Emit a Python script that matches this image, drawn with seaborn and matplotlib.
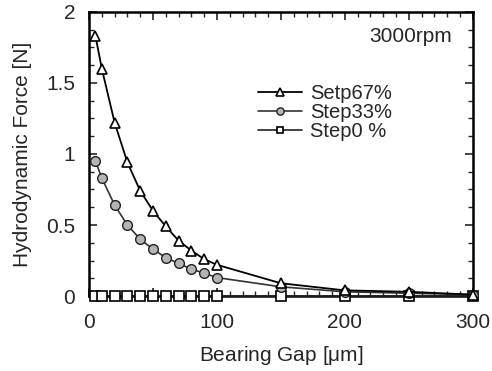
import numpy as np
import pandas as pd
import matplotlib
matplotlib.use('Agg')
import matplotlib.pyplot as plt
from matplotlib.ticker import MultipleLocator, FuncFormatter
import seaborn as sns

# datos
gap = [5, 10, 20, 30, 40, 50, 60, 70, 80, 90, 100, 150, 200, 250, 300]
step67 = [1.83, 1.60, 1.22, 0.94, 0.74, 0.60, 0.49, 0.39, 0.32, 0.26, 0.22, 0.09, 0.04, 0.03, 0.01]
step33 = [0.95, 0.83, 0.64, 0.50, 0.40, 0.33, 0.27, 0.23, 0.19, 0.16, 0.13, 0.065, 0.03, 0.02, 0.01]
step0 = [0, 0, 0, 0, 0, 0, 0, 0, 0, 0, 0, 0, 0, 0, 0]
labels = ['Setp67%', 'Step33%', 'Step0 %']

sns.set_style('ticks')
plt.rcParams['font.family'] = ['Liberation Sans', 'DejaVu Sans']
plt.rcParams['mathtext.fontset'] = 'custom'
plt.rcParams['mathtext.rm'] = 'Liberation Sans'
plt.rcParams['mathtext.it'] = 'Liberation Sans'

fs = 15

fig = plt.figure(figsize=(4.92, 3.71), dpi=100)
ax = fig.add_axes([0.181, 0.202, 0.78, 0.766])

# Step0 primero para que quede debajo
sns.lineplot(x=gap, y=step0, ax=ax, color='#222222', lw=1.2, marker='s', markersize=6.5,
             markerfacecolor='white', markeredgecolor='black', markeredgewidth=1.2,
             label=labels[2], clip_on=False, zorder=3)
sns.lineplot(x=gap, y=step33, ax=ax, color='#333333', lw=1.2, marker='o', markersize=7,
             markerfacecolor='#b4b4b4', markeredgecolor='#222222', markeredgewidth=1.0,
             label=labels[1], clip_on=False, zorder=4)
sns.lineplot(x=gap, y=step67, ax=ax, color='black', lw=1.3, marker='^', markersize=7.5,
             markerfacecolor='white', markeredgecolor='black', markeredgewidth=1.2,
             label=labels[0], clip_on=False, zorder=5)

ax.set_xlim(0, 300)
ax.set_ylim(0, 2)
ax.xaxis.set_major_locator(MultipleLocator(50))
ax.xaxis.set_minor_locator(MultipleLocator(10))
ax.xaxis.set_major_formatter(FuncFormatter(lambda v, p: f'{v:.0f}' if v % 100 == 0 else ''))
ax.yaxis.set_major_locator(MultipleLocator(0.5))
ax.yaxis.set_minor_locator(MultipleLocator(0.125))
ax.yaxis.set_major_formatter(FuncFormatter(lambda v, p: f'{v:g}'))

ax.tick_params(which='both', direction='in', top=True, right=True, labelsize=fs)
ax.tick_params(axis='x', which='major', pad=12)
ax.tick_params(axis='y', which='major', pad=10)
ax.tick_params(which='major', length=6, width=1.2)
ax.tick_params(which='minor', length=3.5, width=1.0)
for s in ax.spines.values():
    s.set_linewidth(1.8)
    s.set_color('black')

ax.set_xlabel('Bearing Gap [$\\mu$m]', fontsize=fs, labelpad=9)
ax.set_ylabel('Hydrodynamic Force [N]', fontsize=fs, labelpad=10)

ax.text(0.945, 0.912, '3000rpm', transform=ax.transAxes, ha='right', va='center', fontsize=fs)

h, l = ax.get_legend_handles_labels()
ax.legend(h[::-1], l[::-1], loc='upper left', bbox_to_anchor=(0.44, 0.745), frameon=False,
          fontsize=14.5, handlelength=2.2, handletextpad=0.4, labelspacing=0.0,
          borderaxespad=0, borderpad=0, markerscale=0.75)

fig.savefig('out.png', dpi=100)
